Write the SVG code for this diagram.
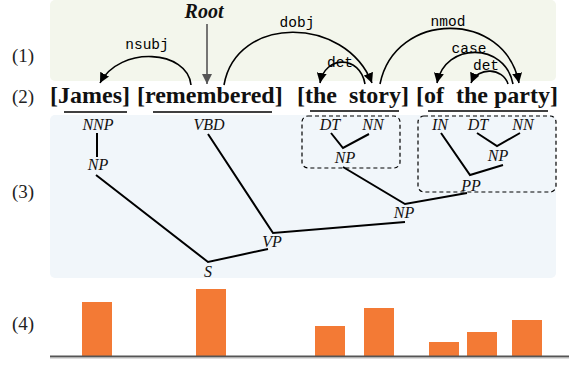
<svg xmlns="http://www.w3.org/2000/svg" width="569" height="365" viewBox="0 0 569 365">
<defs>
<marker id="ah" markerUnits="userSpaceOnUse" markerWidth="10" markerHeight="10" refX="10" refY="5" orient="auto" viewBox="0 0 10 10">
<path d="M0,0 L10,5 L0,10 z" fill="#000"/>
</marker>
<marker id="ahg" markerUnits="userSpaceOnUse" markerWidth="10" markerHeight="10" refX="10" refY="5" orient="auto" viewBox="0 0 10 10">
<path d="M0,0 L10,5 L0,10 z" fill="#555"/>
</marker>
</defs>
<style>
.num{font-family:"Liberation Serif",serif;font-size:19px;fill:#222}
.word{font-family:"Liberation Serif",serif;font-size:24px;font-weight:bold;fill:#111;white-space:pre}
.dep{font-family:"Liberation Mono",monospace;font-size:14.5px;fill:#000;text-anchor:middle}
.tag{font-family:"Liberation Serif",serif;font-size:16px;font-style:italic;fill:#111;text-anchor:middle}
.arc{fill:none;stroke:#000;stroke-width:1.6;marker-end:url(#ah)}
.tr{fill:none;stroke:#000;stroke-width:2}
.ul{stroke:#000;stroke-width:1.6}
.box{fill:none;stroke:#000;stroke-width:1.2;stroke-dasharray:4 3}
.bar{fill:#F37A35}
</style>
<rect x="50" y="0" width="506" height="81" rx="5" fill="#F3F6EC"/>
<rect x="50" y="115" width="506" height="163" rx="5" fill="#F1F6FA"/>
<text class="num" x="12" y="62">(1)</text>
<text class="num" x="12" y="103">(2)</text>
<text class="num" x="12" y="198">(3)</text>
<text class="num" x="12" y="330">(4)</text>
<g id="words">
<text class="word" x="50" y="103">[James]</text>
<text class="word" x="137" y="103">[remembered]</text>
<text class="word" x="297" y="103">[the  story]</text>
<text class="word" x="416" y="103">[of  the party]</text>
<line class="ul" x1="64" y1="112" x2="127" y2="112"/>
<line class="ul" x1="153" y1="112" x2="272" y2="112"/>
<line class="ul" x1="310" y1="111" x2="399" y2="111"/>
<line class="ul" x1="428" y1="111" x2="548" y2="111"/>
</g>
<g id="root">
<text x="204" y="18" font-family="Liberation Serif,serif" font-size="20" font-weight="bold" font-style="italic" text-anchor="middle" fill="#111">Root</text>
<line x1="207" y1="24" x2="207" y2="84" stroke="#555" stroke-width="1.6" marker-end="url(#ahg)"/>
</g>
<g id="dependencies">
<path class="arc" d="M191,85 C188,50 120,45 100,83"/>
<path class="arc" d="M224,85 C236,15 345,15 372,83"/>
<path class="arc" d="M365,84 C360,55 325,55 320,83"/>
<path class="arc" d="M380,84 C395,10 505,10 519,83"/>
<path class="arc" d="M513,84 C505,42 445,42 437,83"/>
<path class="arc" d="M508,84 C503,68 478,66 471,83"/>
<text class="dep" x="147" y="49">nsubj</text>
<text class="dep" x="297" y="27">dobj</text>
<text class="dep" x="340" y="67">det</text>
<text class="dep" x="448" y="26">nmod</text>
<text class="dep" x="469" y="53">case</text>
<text class="dep" x="486" y="70">det</text>
</g>
<g id="tree-edges">
<polyline class="tr" points="97,133 97,157"/>
<polyline class="tr" points="96,175 208,262 268,249"/>
<polyline class="tr" points="208,134 273,233 405,222"/>
<polyline class="tr" points="331,133 343,148 369,134"/>
<polyline class="tr" points="343,167 405,204 467,193"/>
<polyline class="tr" points="441,133 470,175 503,165"/>
<polyline class="tr" points="477,133 497,146 520,133"/>
</g>
<g id="tree-nodes">
<text class="tag" x="98" y="130">NNP</text>
<text class="tag" x="98" y="170">NP</text>
<text class="tag" x="209" y="130">VBD</text>
<text class="tag" x="208" y="277">S</text>
<text class="tag" x="272" y="247">VP</text>
<text class="tag" x="404" y="218">NP</text>
<text class="tag" x="330" y="130">DT</text>
<text class="tag" x="373" y="130">NN</text>
<text class="tag" x="345" y="163">NP</text>
<text class="tag" x="440" y="130">IN</text>
<text class="tag" x="478" y="130">DT</text>
<text class="tag" x="523" y="130">NN</text>
<text class="tag" x="498" y="161">NP</text>
<text class="tag" x="471" y="191">PP</text>
<rect class="box" x="302" y="116" width="98" height="52" rx="6"/>
<rect class="box" x="418" y="116" width="138" height="76" rx="6"/>
</g>
<g id="bars">
<rect class="bar" x="82" y="302" width="30" height="54"/>
<rect class="bar" x="196" y="289" width="30" height="67"/>
<rect class="bar" x="315" y="326" width="30" height="30"/>
<rect class="bar" x="364" y="308" width="30" height="48"/>
<rect class="bar" x="429" y="342" width="30" height="14"/>
<rect class="bar" x="467" y="332" width="30" height="24"/>
<rect class="bar" x="512" y="320" width="30" height="36"/>
<line x1="50" y1="356.5" x2="569" y2="356.5" stroke="#555" stroke-width="2"/>
<line x1="50" y1="358" x2="569" y2="358" stroke="#bbb" stroke-width="1"/>
</g>
</svg>
